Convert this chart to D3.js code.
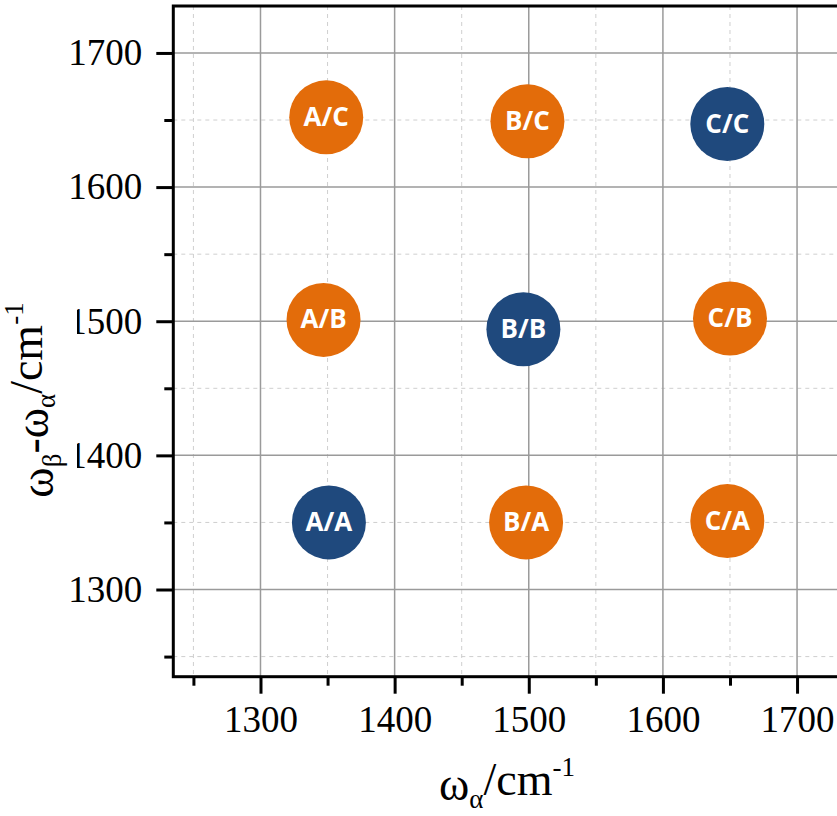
<!DOCTYPE html>
<html>
<head>
<meta charset="utf-8">
<script src="https://cdn.jsdelivr.net/npm/d3@7"></script>
<style>
  html, body { margin: 0; padding: 0; background: #fff; overflow: hidden; }
  svg { display: block; }
</style>
</head>
<body>
<svg id="chart" width="837" height="816"></svg>
<script>
// ---- data ----
const peakLabels = ["A/C", "B/C", "C/C", "A/B", "B/B", "C/B", "A/A", "B/A", "C/A"];
const omegaAlpha = [1349, 1499, 1648, 1347, 1496, 1650, 1351, 1498, 1648];
const omegaBetaMinusAlpha = [1652, 1649, 1647, 1501, 1494, 1502, 1350, 1350, 1351];
const peakType = ["cross", "cross", "diag", "cross", "diag", "cross", "diag", "cross", "cross"];
const majorTicks = [1300, 1400, 1500, 1600, 1700];
const minorTicksX = [1250, 1350, 1450, 1550, 1650, 1750];
const minorTicksY = [1250, 1350, 1450, 1550, 1650];
const xDomain = [1235, 1735];
const yDomain = [1235, 1735];

// ---- layout ----
const svg = d3.select("#chart");
const pLeft = 173.3, pTop = 6, pBottom = 676.7;
const plotH = pBottom - pTop;
const pRight = pLeft + plotH;

const x = d3.scaleLinear().domain(xDomain).range([pLeft, pRight]);
const y = d3.scaleLinear().domain(yDomain).range([pBottom, pTop]);
const color = d3.scaleOrdinal().domain(["cross", "diag"]).range(["#E36C0A", "#1F497D"]);

// minor grid (dashed)
const g = svg.append("g");
g.selectAll(".mgx").data(minorTicksX.filter(v => v > xDomain[0] && v < xDomain[1]))
  .join("line").attr("x1", d => x(d)).attr("x2", d => x(d)).attr("y1", pTop).attr("y2", pBottom)
  .attr("stroke", "#cfcfcf").attr("stroke-width", 1).attr("stroke-dasharray", "4,4");
g.selectAll(".mgy").data(minorTicksY)
  .join("line").attr("y1", d => y(d)).attr("y2", d => y(d)).attr("x1", pLeft).attr("x2", pRight)
  .attr("stroke", "#cfcfcf").attr("stroke-width", 1).attr("stroke-dasharray", "4,4");
// major grid
g.selectAll(".Mgx").data(majorTicks)
  .join("line").attr("x1", d => x(d)).attr("x2", d => x(d)).attr("y1", pTop).attr("y2", pBottom)
  .attr("stroke", "#9a9a9a").attr("stroke-width", 1.5);
g.selectAll(".Mgy").data(majorTicks)
  .join("line").attr("y1", d => y(d)).attr("y2", d => y(d)).attr("x1", pLeft).attr("x2", pRight)
  .attr("stroke", "#9a9a9a").attr("stroke-width", 1.5);

// axes
const tickFont = "'Liberation Serif', 'DejaVu Serif', serif";
const xAxis = d3.axisBottom(x).tickValues(majorTicks).tickSize(17).tickPadding(12).tickFormat(d3.format("d"));
const yAxis = d3.axisLeft(y).tickValues(majorTicks).tickSize(17).tickPadding(14).tickFormat(d3.format("d"));
const xMinor = d3.axisBottom(x).tickValues(minorTicksX.filter(v => v > xDomain[0] && v < xDomain[1])).tickSize(9).tickFormat("");
const yMinor = d3.axisLeft(y).tickValues(minorTicksY).tickSize(9).tickFormat("");

function styleAxis(sel) {
  sel.select(".domain").remove();
  sel.selectAll(".tick line").attr("stroke", "#000").attr("stroke-width", 3);
  sel.selectAll(".tick text").attr("fill", "#000").style("font-family", tickFont).style("font-size", "37px");
}
svg.append("g").attr("transform", `translate(0,${pBottom})`).call(xMinor).call(styleAxis);
svg.append("g").attr("transform", `translate(${pLeft},0)`).call(yMinor).call(styleAxis);
svg.append("g").attr("transform", `translate(0,${pBottom})`).call(xAxis).call(styleAxis);
svg.append("g").attr("transform", `translate(${pLeft},0)`).call(yAxis).call(styleAxis);

// frame
svg.append("rect").attr("x", pLeft).attr("y", pTop).attr("width", pRight - pLeft).attr("height", pBottom - pTop)
  .attr("fill", "none").attr("stroke", "#000").attr("stroke-width", 3);

// peaks
const peaks = peakLabels.map((lab, i) => ({ lab, xa: omegaAlpha[i], yb: omegaBetaMinusAlpha[i], t: peakType[i] }));
const pg = svg.append("g").selectAll("g").data(peaks).join("g")
  .attr("transform", d => `translate(${x(d.xa)},${y(d.yb)})`);
pg.append("circle").attr("r", 37).attr("fill", d => color(d.t));
pg.append("text").text(d => d.lab)
  .attr("text-anchor", "middle").attr("dy", "0.33em")
  .attr("fill", "#fff").style("font-family", "'Open Sans', sans-serif").style("font-weight", "700").style("font-size", "26px");

// y-axis title with white background (covers part of labels as in reference)
const yTitleCx = 53, yTitleCy = 400;
svg.append("rect").attr("x", 0).attr("y", 298).attr("width", 77).attr("height", 204).attr("fill", "#fff");
const titleFont = "'Liberation Serif', 'DejaVu Serif', serif";
const yt = svg.append("text")
  .attr("transform", `translate(${yTitleCx},${yTitleCy}) rotate(-90)`)
  .attr("text-anchor", "middle")
  .style("font-family", titleFont).style("font-size", "46px").attr("fill", "#000");
yt.append("tspan").text("ω");
yt.append("tspan").text("β").attr("dy", "0.28em").style("font-size", "27px");
yt.append("tspan").text("-ω").attr("dy", "-0.28em");
yt.append("tspan").text("α").attr("dy", "0.28em").style("font-size", "27px");
yt.append("tspan").text("/cm").attr("dy", "-0.28em");
yt.append("tspan").text("-1").attr("dy", "-0.7em").style("font-size", "27px");

// x-axis title
const xt = svg.append("text")
  .attr("x", 507).attr("y", 800)
  .attr("text-anchor", "middle")
  .style("font-family", titleFont).style("font-size", "46px").attr("fill", "#000");
xt.append("tspan").text("ω");
xt.append("tspan").text("α").attr("dy", "0.28em").style("font-size", "27px");
xt.append("tspan").text("/cm").attr("dy", "-0.28em");
xt.append("tspan").text("-1").attr("dy", "-0.7em").style("font-size", "27px");
</script>
</body>
</html>
